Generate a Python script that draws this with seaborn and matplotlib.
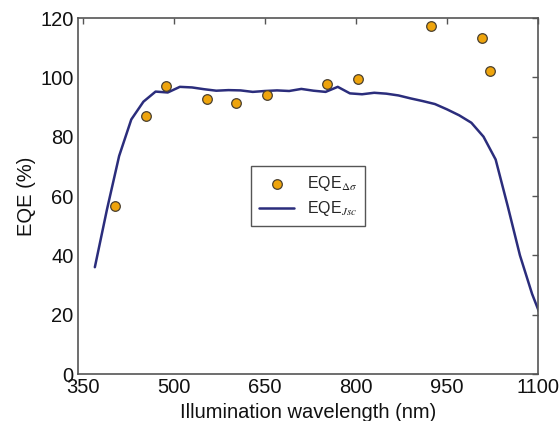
import matplotlib
matplotlib.use("Agg")
import matplotlib.pyplot as plt
import seaborn as sns
import pandas as pd

# EQE from photoconductance change at discrete laser wavelengths
laser_nm = [404, 454, 487, 554, 603, 653, 753, 803, 923, 1007, 1021]
eqe_dsigma = [56.6, 86.9, 97.2, 92.8, 91.2, 93.9, 97.6, 99.5, 117.4, 113.4, 102.1]

# EQE derived from short-circuit current spectrum
spec_nm = [370, 390, 410, 430, 450, 470, 490, 510, 530, 550, 570, 590, 610,
           630, 650, 670, 690, 710, 730, 750, 770, 790, 810, 830, 850, 870,
           890, 910, 930, 950, 970, 990, 1010, 1030, 1050, 1070, 1090, 1110]
eqe_jsc = [36.0, 55.5, 73.5, 85.8, 91.8, 95.2, 94.9, 96.8, 96.6, 96.0, 95.5,
           95.7, 95.6, 95.1, 95.4, 95.6, 95.4, 96.1, 95.5, 95.1, 96.8, 94.6,
           94.3, 94.8, 94.5, 93.9, 92.9, 92.0, 91.0, 89.2, 87.2, 84.7, 80.0,
           72.3, 56.5, 40.0, 27.0, 16.5]

x_ticks = [350, 500, 650, 800, 950, 1100]
y_ticks = [0, 20, 40, 60, 80, 100, 120]

sns.set_theme(style="white")
plt.rcParams["font.family"] = ["Liberation Sans", "DejaVu Sans"]
plt.rcParams["mathtext.fontset"] = "stix"
plt.rcParams.update({
    "xtick.direction": "in", "ytick.direction": "in",
    "xtick.top": True, "ytick.right": True,
    "xtick.major.size": 4, "ytick.major.size": 4,
    "xtick.major.width": 1, "ytick.major.width": 1,
    "xtick.color": "#555555", "ytick.color": "#555555",
    "xtick.labelcolor": "#111111", "ytick.labelcolor": "#111111",
    "xtick.major.pad": 3, "ytick.major.pad": 3,
})

df_pts = pd.DataFrame({"wl": laser_nm, "eqe": eqe_dsigma})
df_line = pd.DataFrame({"wl": spec_nm, "eqe": eqe_jsc})

fig = plt.figure(figsize=(5.6, 4.21), dpi=100)
ax = fig.add_axes([0.139, 0.1116, 0.822, 0.8456])

sns.lineplot(data=df_line, x="wl", y="eqe", ax=ax, color="#2b2d7c",
             linewidth=1.8, label=r"EQE$_{Jsc}$", zorder=2)
sns.scatterplot(data=df_pts, x="wl", y="eqe", ax=ax, color="#eea40c",
                edgecolor="#4a4030", linewidth=0.9, s=48,
                label=r"EQE$_{\Delta\sigma}$", zorder=3)

ax.set_xlim(342, 1100)
ax.set_ylim(0, 120)
ax.set_xticks(x_ticks)
ax.set_yticks(y_ticks)
ax.tick_params(labelsize=14.5)
ax.set_xlabel("Illumination wavelength (nm)", fontsize=14.5, color="#111111",
              labelpad=4)
ax.set_ylabel("EQE (%)", fontsize=14.5, color="#111111", labelpad=3)

for sp in ax.spines.values():
    sp.set_color("#555555")
    sp.set_linewidth(1.2)

handles, labels = ax.get_legend_handles_labels()
order = [1, 0]
leg = ax.legend([handles[i] for i in order], [labels[i] for i in order],
                loc="center", fontsize=11.5, frameon=True, fancybox=False,
                edgecolor="#555555", framealpha=1, borderpad=0.5,
                handlelength=2.2, labelspacing=0.4)
leg.get_frame().set_linewidth(1.0)

fig.savefig("out.png", dpi=100)
